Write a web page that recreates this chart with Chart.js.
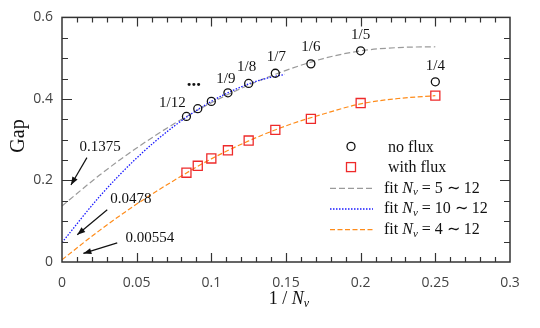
<!DOCTYPE html>
<html>
<head>
<meta charset="utf-8">
<script src="https://cdn.jsdelivr.net/npm/chart.js@4.4.1/dist/chart.umd.min.js"></script>
<style>
  html, body { margin: 0; padding: 0; background: #fff; }
  #wrap { width: 540px; height: 328px; position: relative; }
</style>
</head>
<body>
<div id="wrap"><canvas id="c" width="540" height="328"></canvas></div>
<script>
// ---- data ----
const nv = [4, 5, 6, 7, 8, 9, 10, 11, 12];
const noFlux   = [0.442, 0.518, 0.486, 0.463, 0.438, 0.415, 0.394, 0.376, 0.357];
const withFlux = [0.408, 0.390, 0.351, 0.324, 0.298, 0.274, 0.254, 0.236, 0.219];
const pointLabels = ['1/4', '1/5', '1/6', '1/7', '1/8', '1/9', '', '', '1/12'];

const fitX      = [0, 0.025, 0.05, 0.075, 0.1, 0.125, 0.15, 0.175, 0.2, 0.225, 0.25];
const fitGray   = [0.1375, 0.2126, 0.2797, 0.339, 0.3905, 0.434, 0.470, 0.499, 0.518, 0.526, 0.528];
const fitOrange = [0.00554, 0.077, 0.142, 0.200, 0.253, 0.297, 0.334, 0.363, 0.388, 0.401, 0.408];
const fitBlueX  = [0, 0.025, 0.05, 0.075, 0.1, 0.125, 0.1375, 0.149];
const fitBlue   = [0.0478, 0.160, 0.255, 0.333, 0.394, 0.437, 0.451, 0.460];

const intercepts = [
  { text: '0.1375',  tx: 0.0255, ty: 0.283, ax: 0.0167, ay: 0.256, bx: 0.0060, by: 0.189 },
  { text: '0.0478',  tx: 0.0462, ty: 0.155, ax: 0.0303, ay: 0.128, bx: 0.0102, by: 0.067 },
  { text: '0.00554', tx: 0.0589, ty: 0.058, ax: 0.0370, ay: 0.047, bx: 0.0143, by: 0.021 }
];

const xTicksMajor = 0.05, xTicksMinor = 0.01;
const yTicksMajor = 0.2,  yTicksMinor = 0.05;

// ---- build datasets ----
const xs = nv.map(n => 1 / n);
const pts = (xa, ya) => xa.map((x, i) => ({ x: x, y: ya[i] }));

const SERIF = '"Liberation Serif", "Times New Roman", serif';
const SANS = '"Open Sans", "Noto Sans", sans-serif';

const GRAY = '#9a9a9a', BLUE = '#1a1aff', ORANGE = '#ff8c1a', RED = '#ee2a2a';

function drawRich(ctx, parts, x, y, align) {
  let total = 0;
  parts.forEach(p => { ctx.font = p.font; p.w = ctx.measureText(p.t).width; total += p.w; });
  let cx = align === 'center' ? x - total / 2 : x;
  ctx.textAlign = 'left';
  parts.forEach(p => {
    ctx.font = p.font;
    ctx.fillText(p.t, cx, y + (p.dy || 0));
    cx += p.w;
  });
}

const decor = {
  id: 'decor',
  afterDraw(chart) {
    const ctx = chart.ctx;
    const ca = chart.chartArea;
    const sx = chart.scales.x, sy = chart.scales.y;
    ctx.save();
    // frame
    ctx.strokeStyle = '#333';
    ctx.lineWidth = 1.5;
    ctx.strokeRect(ca.left, ca.top, ca.right - ca.left, ca.bottom - ca.top);
    // ticks inward
    ctx.lineWidth = 1.2;
    ctx.beginPath();
    for (let i = 1; i < 30; i++) {
      const v = i * xTicksMinor;
      const px = Math.round(sx.getPixelForValue(v)) + 0.5;
      const major = i % Math.round(xTicksMajor / xTicksMinor) === 0;
      const L = major ? 9 : 5;
      ctx.moveTo(px, ca.bottom); ctx.lineTo(px, ca.bottom - L);
      ctx.moveTo(px, ca.top); ctx.lineTo(px, ca.top + L);
    }
    for (let i = 1; i < 12; i++) {
      const v = i * yTicksMinor;
      const py = Math.round(sy.getPixelForValue(v)) + 0.5;
      const major = i % Math.round(yTicksMajor / yTicksMinor) === 0;
      const L = major ? 10 : 6;
      ctx.moveTo(ca.left, py); ctx.lineTo(ca.left + L, py);
      ctx.moveTo(ca.right, py); ctx.lineTo(ca.right - L, py);
    }
    ctx.stroke();

    // point labels
    ctx.fillStyle = '#111';
    ctx.font = '15px ' + SERIF;
    ctx.textAlign = 'center';
    ctx.textBaseline = 'middle';
    const offs = { '1/4': [0, -16], '1/5': [0, -16], '1/6': [0, -17], '1/7': [1, -16], '1/8': [-2, -16], '1/9': [-2, -14], '1/12': [-14, -13] };
    pointLabels.forEach((lab, i) => {
      if (!lab) return;
      const px = sx.getPixelForValue(xs[i]), py = sy.getPixelForValue(noFlux[i]);
      const o = offs[lab];
      ctx.fillText(lab, px + o[0], py + o[1]);
    });
    // ellipsis
    ctx.font = 'bold 19px ' + SERIF;
    ctx.fillText('...', sx.getPixelForValue(xs[7]) - 4, sy.getPixelForValue(noFlux[7]) - 28);

    // intercept annotations
    ctx.font = '15px ' + SERIF;
    intercepts.forEach(a => {
      ctx.fillStyle = '#111';
      ctx.fillText(a.text, sx.getPixelForValue(a.tx), sy.getPixelForValue(a.ty));
      const x1 = sx.getPixelForValue(a.ax), y1 = sy.getPixelForValue(a.ay);
      const x2 = sx.getPixelForValue(a.bx), y2 = sy.getPixelForValue(a.by);
      ctx.strokeStyle = '#111'; ctx.lineWidth = 1.2;
      ctx.beginPath(); ctx.moveTo(x1, y1); ctx.lineTo(x2, y2); ctx.stroke();
      const ang = Math.atan2(y2 - y1, x2 - x1);
      const hl = 8, hw = 3;
      ctx.beginPath();
      ctx.moveTo(x2, y2);
      ctx.lineTo(x2 - hl * Math.cos(ang) + hw * Math.sin(ang), y2 - hl * Math.sin(ang) - hw * Math.cos(ang));
      ctx.lineTo(x2 - hl * Math.cos(ang) - hw * Math.sin(ang), y2 - hl * Math.sin(ang) + hw * Math.cos(ang));
      ctx.closePath(); ctx.fill();
    });

    // legend
    const lx = ca.left + 268, ty0 = ca.top + 129, dy = 20.7, tx = ca.left + 322;
    ctx.textBaseline = 'middle';
    ctx.strokeStyle = '#111'; ctx.lineWidth = 1.3;
    ctx.beginPath(); ctx.arc(lx + 21, ty0, 4, 0, Math.PI * 2); ctx.stroke();
    ctx.fillStyle = '#111';
    drawRich(ctx, [{ t: 'no flux', font: '16px ' + SERIF }], tx + 4, ty0 + 1, 'left');
    ctx.strokeStyle = RED;
    ctx.strokeRect(lx + 21 - 4.5, ty0 + dy - 4.5, 9, 9);
    drawRich(ctx, [{ t: 'with flux', font: '16px ' + SERIF }], tx + 4, ty0 + dy + 1, 'left');
    const fits = [[GRAY, [6, 3], '5'], [BLUE, [1.5, 1.5], '10'], [ORANGE, [5, 2.5], '4']];
    fits.forEach((f, i) => {
      const yy = ty0 + dy * (2 + i) + 0.5;
      ctx.strokeStyle = f[0]; ctx.lineWidth = 1.3; ctx.setLineDash(f[1]);
      ctx.beginPath(); ctx.moveTo(lx, yy); ctx.lineTo(lx + 43, yy); ctx.stroke();
      ctx.setLineDash([]);
      ctx.fillStyle = '#111';
      drawRich(ctx, [
        { t: 'fit ', font: '16px ' + SERIF },
        { t: 'N', font: 'italic 16px ' + SERIF },
        { t: 'v', font: 'italic 11px ' + SERIF, dy: 4 },
        { t: ' = ' + f[2] + ' \u223C 12', font: '16px ' + SERIF }
      ], tx, yy, 'left');
    });

    // axis titles
    ctx.fillStyle = '#111';
    ctx.textBaseline = 'middle';
    drawRich(ctx, [
      { t: '1 / ', font: '18px ' + SERIF },
      { t: 'N', font: 'italic 18px ' + SERIF },
      { t: 'v', font: 'italic 12px ' + SERIF, dy: 5 }
    ], 289, 299, 'center');
    ctx.save();
    ctx.translate(19, 136);
    ctx.rotate(-Math.PI / 2);
    ctx.font = '20px ' + SERIF;
    ctx.textAlign = 'center';
    ctx.fillText('Gap', 0, 0);
    ctx.restore();

    ctx.restore();
  }
};

const fmt = v => String(Math.round(v * 100) / 100);

new Chart(document.getElementById('c'), {
  type: 'scatter',
  data: {
    datasets: [
      { label: 'no flux', data: pts(xs, noFlux), showLine: false, pointStyle: 'circle', pointRadius: 4,
        borderColor: '#111', backgroundColor: 'rgba(0,0,0,0)', borderWidth: 1.3, order: 1 },
      { label: 'with flux', data: pts(xs, withFlux), showLine: false, pointStyle: 'rect', pointRadius: 6.4,
        borderColor: RED, backgroundColor: 'rgba(0,0,0,0)', borderWidth: 1.3, order: 2 },
      { label: 'fit 5-12', data: pts(fitX, fitGray), showLine: true, pointRadius: 0, borderColor: GRAY,
        borderWidth: 1.2, borderDash: [6, 3], cubicInterpolationMode: 'monotone', order: 5 },
      { label: 'fit 10-12', data: pts(fitBlueX, fitBlue), showLine: true, pointRadius: 0, borderColor: BLUE,
        borderWidth: 1.3, borderDash: [1.5, 1.5], cubicInterpolationMode: 'monotone', order: 4 },
      { label: 'fit 4-12', data: pts(fitX, fitOrange), showLine: true, pointRadius: 0, borderColor: ORANGE,
        borderWidth: 1.2, borderDash: [5, 2.5], cubicInterpolationMode: 'monotone', order: 3 }
    ]
  },
  options: {
    responsive: false,
    animation: false,
    devicePixelRatio: 1,
    layout: { padding: { top: 14, right: 30, left: 0, bottom: 0 } },
    plugins: { legend: { display: false }, tooltip: { enabled: false } },
    scales: {
      x: {
        type: 'linear', min: 0, max: 0.3,
        grid: { display: false, drawTicks: false },
        border: { display: false },
        ticks: {
          stepSize: xTicksMinor, autoSkip: false, maxRotation: 0, padding: 13,
          color: '#444', font: { family: SANS, size: 14 },
          callback: v => (Math.round(v * 100) % 5 === 0 ? fmt(v) : '')
        },
        afterFit: s => { s.height = 66; }
      },
      y: {
        type: 'linear', min: 0, max: 0.6,
        grid: { display: false, drawTicks: false },
        border: { display: false },
        ticks: {
          stepSize: yTicksMinor, autoSkip: false, padding: 9,
          color: '#444', font: { family: SANS, size: 14 },
          callback: v => (Math.round(v * 100) % 20 === 0 ? fmt(v) : '')
        },
        afterFit: s => { s.width = 62; }
      }
    }
  },
  plugins: [decor]
});
</script>
</body>
</html>
